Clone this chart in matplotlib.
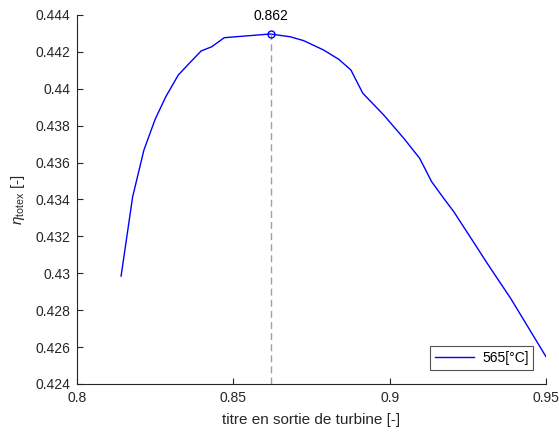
import matplotlib
matplotlib.use("Agg")
import matplotlib.pyplot as plt

plt.rcParams['font.family'] = ['Liberation Sans', 'DejaVu Sans']
plt.rcParams['mathtext.fontset'] = 'custom'
plt.rcParams['mathtext.rm'] = 'Liberation Sans'
plt.rcParams['mathtext.it'] = 'Liberation Sans:italic'

titre = [0.8141, 0.8178, 0.8214, 0.8250, 0.8284, 0.8324, 0.8359, 0.8397, 0.8431,
         0.8471, 0.8618, 0.8682, 0.8725, 0.8789, 0.8837, 0.8876, 0.8914, 0.8981,
         0.9045, 0.9096, 0.9134, 0.9173, 0.9205, 0.9264, 0.9312, 0.9387, 0.9500]
eta = [0.42985, 0.43415, 0.43668, 0.43835, 0.43957, 0.44075, 0.44138, 0.44205, 0.44228,
       0.44277, 0.44297, 0.44282, 0.44261, 0.44210, 0.44160, 0.44102, 0.43976, 0.43858,
       0.43732, 0.43623, 0.43497, 0.43406, 0.43334, 0.43180, 0.43054, 0.42864, 0.42548]
x_opt = 0.862
y_opt = 0.44297
series_label = '565[°C]'
xticks = [0.8, 0.85, 0.9, 0.95]
xticklabels = ['0.8', '0.85', '0.9', '0.95']
yticks = [0.424, 0.426, 0.428, 0.43, 0.432, 0.434, 0.436, 0.438, 0.44, 0.442, 0.444]
yticklabels = ['0.424', '0.426', '0.428', '0.43', '0.432', '0.434', '0.436', '0.438', '0.44', '0.442', '0.444']

fig = plt.figure(figsize=(5.59, 4.34), dpi=100)
ax = fig.add_axes([77/559, 1-384/434, (546-77)/559, (384-15)/434])

ax.plot(titre, eta, color='#0000ff', lw=1.0, label=series_label)
ax.plot([x_opt, x_opt], [0.424, y_opt], color='#a0a0a0', lw=1.0, ls=(0, (5, 3)))
ax.plot([x_opt], [y_opt], marker='o', ms=5, mfc='none', mec='#0000ff', mew=1.0, ls='none')
ax.text(x_opt, y_opt + 0.0006, f'{x_opt:.3f}', ha='center', va='bottom', fontsize=10, color='#000000')

ax.set_xlim(0.8, 0.95)
ax.set_ylim(0.424, 0.444)
ax.set_xticks(xticks)
ax.set_xticklabels(xticklabels)
ax.set_yticks(yticks)
ax.set_yticklabels(yticklabels)
ax.tick_params(direction='in', length=4, width=0.8, colors='#262626', labelsize=10, pad=5)
for s in ['top', 'right']:
    ax.spines[s].set_visible(False)
for s in ['left', 'bottom']:
    ax.spines[s].set_color('#262626')
    ax.spines[s].set_linewidth(0.8)

ax.set_xlabel('titre en sortie de turbine [-]', fontsize=11, color='#262626', labelpad=6)
ax.set_ylabel(r'$\eta_{\mathrm{totex}}$ [-]', fontsize=11, color='#262626', labelpad=6)

leg = ax.legend(loc='lower right', fontsize=10, frameon=True, fancybox=False,
                edgecolor='#262626', handlelength=2.8, handletextpad=0.6,
                borderpad=0.35, bbox_to_anchor=(0.988, 0.02))
leg.get_frame().set_linewidth(0.8)

fig.savefig('out.png', dpi=100)
